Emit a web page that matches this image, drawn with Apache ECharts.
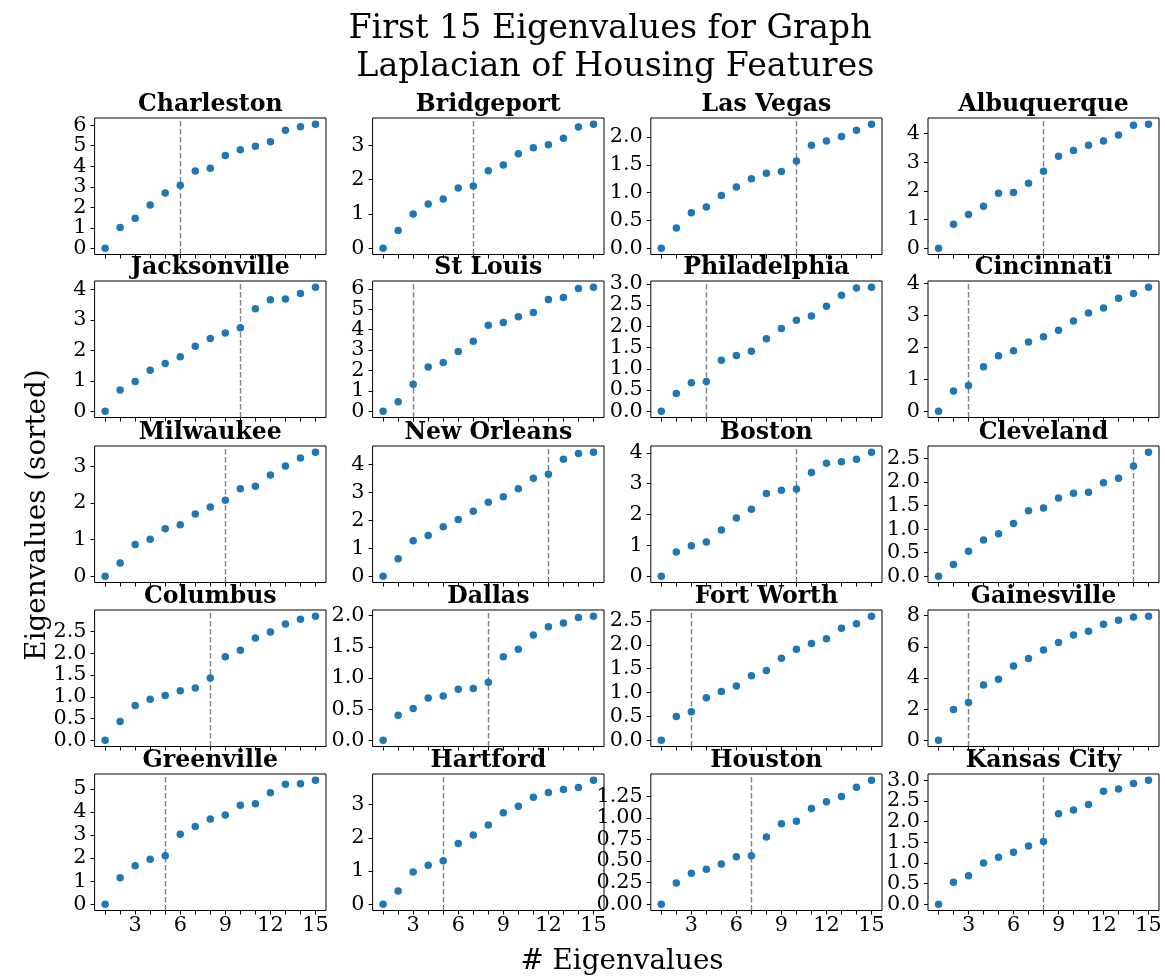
<!DOCTYPE html>
<html>
<head>
<meta charset="utf-8">
<script src="https://cdn.jsdelivr.net/npm/echarts@6/dist/echarts.min.js"></script>
<style>
  html, body { margin: 0; padding: 0; background: #fff; }
  #chart { width: 1165px; height: 978px; }
</style>
</head>
<body>
<div id="chart"></div>
<script>
// ---------------- DATA ----------------
const cities = ['Charleston', 'Bridgeport', 'Las Vegas', 'Albuquerque',
  'Jacksonville', 'St Louis', 'Philadelphia', 'Cincinnati',
  'Milwaukee', 'New Orleans', 'Boston', 'Cleveland',
  'Columbus', 'Dallas', 'Fort Worth', 'Gainesville',
  'Greenville', 'Hartford', 'Houston', 'Kansas City'];

const eigenIndex = [1, 2, 3, 4, 5, 6, 7, 8, 9, 10, 11, 12, 13, 14, 15];

const charleston   = [0, 1.01, 1.46, 2.11, 2.70, 3.07, 3.77, 3.90, 4.52, 4.80, 4.98, 5.20, 5.76, 5.92, 6.05];
const bridgeport   = [0, 0.52, 1.00, 1.29, 1.44, 1.76, 1.82, 2.26, 2.43, 2.76, 2.93, 3.02, 3.21, 3.54, 3.62];
const lasVegas     = [0, 0.365, 0.64, 0.74, 0.95, 1.10, 1.25, 1.35, 1.38, 1.57, 1.85, 1.93, 2.01, 2.12, 2.23];
const albuquerque  = [0, 0.84, 1.18, 1.47, 1.92, 1.95, 2.27, 2.69, 3.21, 3.41, 3.60, 3.74, 3.95, 4.29, 4.33];
const jacksonville = [0, 0.70, 0.98, 1.35, 1.57, 1.79, 2.13, 2.39, 2.57, 2.74, 3.36, 3.66, 3.68, 3.86, 4.07];
const stLouis      = [0, 0.47, 1.32, 2.17, 2.39, 2.93, 3.43, 4.22, 4.35, 4.63, 4.84, 5.48, 5.57, 6.02, 6.08];
const philadelphia = [0, 0.42, 0.67, 0.70, 1.20, 1.31, 1.41, 1.71, 1.95, 2.14, 2.24, 2.47, 2.73, 2.90, 2.92];
const cincinnati   = [0, 0.64, 0.81, 1.40, 1.74, 1.90, 2.17, 2.34, 2.54, 2.83, 3.08, 3.24, 3.54, 3.69, 3.89];
const milwaukee    = [0, 0.36, 0.87, 1.01, 1.30, 1.41, 1.70, 1.89, 2.08, 2.39, 2.46, 2.77, 3.01, 3.23, 3.39];
const newOrleans   = [0, 0.63, 1.27, 1.46, 1.77, 2.03, 2.33, 2.65, 2.85, 3.13, 3.51, 3.65, 4.19, 4.39, 4.44];
const boston       = [0, 0.79, 0.99, 1.11, 1.50, 1.89, 2.17, 2.68, 2.79, 2.83, 3.36, 3.66, 3.71, 3.79, 4.02];
const cleveland    = [0, 0.25, 0.53, 0.77, 0.90, 1.12, 1.39, 1.45, 1.66, 1.76, 1.78, 1.98, 2.08, 2.34, 2.63];
const columbus     = [0, 0.43, 0.80, 0.94, 1.03, 1.14, 1.20, 1.43, 1.92, 2.07, 2.35, 2.49, 2.67, 2.78, 2.85];
const dallas       = [0, 0.40, 0.51, 0.68, 0.71, 0.82, 0.83, 0.93, 1.34, 1.46, 1.69, 1.82, 1.88, 1.97, 1.99];
const fortWorth    = [0, 0.50, 0.60, 0.89, 1.02, 1.14, 1.35, 1.46, 1.72, 1.91, 2.03, 2.13, 2.35, 2.44, 2.60];
const gainesville  = [0, 1.97, 2.42, 3.55, 3.91, 4.77, 5.24, 5.80, 6.27, 6.76, 6.99, 7.44, 7.70, 7.91, 7.96];
const greenville   = [0, 1.15, 1.67, 1.95, 2.10, 3.03, 3.37, 3.69, 3.86, 4.29, 4.35, 4.83, 5.19, 5.22, 5.37];
const hartford     = [0, 0.40, 0.97, 1.17, 1.31, 1.83, 2.08, 2.38, 2.75, 2.95, 3.22, 3.36, 3.45, 3.51, 3.73];
const houston      = [0, 0.246, 0.358, 0.404, 0.465, 0.55, 0.56, 0.777, 0.93, 0.96, 1.108, 1.185, 1.246, 1.354, 1.435];
const kansasCity   = [0, 0.53, 0.69, 1.00, 1.14, 1.26, 1.41, 1.52, 2.19, 2.28, 2.41, 2.73, 2.79, 2.92, 3.00];

const seriesValues = [charleston, bridgeport, lasVegas, albuquerque,
  jacksonville, stLouis, philadelphia, cincinnati,
  milwaukee, newOrleans, boston, cleveland,
  columbus, dallas, fortWorth, gainesville,
  greenville, hartford, houston, kansasCity];

// index of the chosen cut (dashed line) per city
const cutoffs = [6, 7, 10, 8, 10, 3, 4, 3, 9, 12, 10, 14, 8, 8, 3, 3, 5, 5, 7, 8];

const yTickLabels = [
  ['0','1','2','3','4','5','6'],
  ['0','1','2','3'],
  ['0.0','0.5','1.0','1.5','2.0'],
  ['0','1','2','3','4'],
  ['0','1','2','3','4'],
  ['0','1','2','3','4','5','6'],
  ['0.0','0.5','1.0','1.5','2.0','2.5','3.0'],
  ['0','1','2','3','4'],
  ['0','1','2','3'],
  ['0','1','2','3','4'],
  ['0','1','2','3','4'],
  ['0.0','0.5','1.0','1.5','2.0','2.5'],
  ['0.0','0.5','1.0','1.5','2.0','2.5'],
  ['0.0','0.5','1.0','1.5','2.0'],
  ['0.0','0.5','1.0','1.5','2.0','2.5'],
  ['0','2','4','6','8'],
  ['0','1','2','3','4','5'],
  ['0','1','2','3'],
  ['0.00','0.25','0.50','0.75','1.00','1.25'],
  ['0.0','0.5','1.0','1.5','2.0','2.5','3.0']
];

const xTickLabels = ['3', '6', '9', '12', '15'];

const mainTitle = 'First 15 Eigenvalues for Graph\n Laplacian of Housing Features';
const xAxisTitle = '# Eigenvalues';
const yAxisTitle = 'Eigenvalues (sorted)';

// ---------------- LAYOUT ----------------
const colBounds = [[94.6, 326], [372.6, 604], [650.8, 882], [928, 1159]];
const rowTops = [118, 281, 446, 610, 774];
const rowHeight = 136.5;

const SERIF = '"DejaVu Serif", serif';
const BLUE = '#1f77b4';
const TICK_FONT = 20.8;

// list even-indexed ticks first, then odd ones, so the library's
// min/max-label overlap check never compares two neighbouring labels
function interleave(arr) {
  return arr.filter((_, k) => k % 2 === 0).concat(arr.filter((_, k) => k % 2 === 1));
}

const grids = [], xAxes = [], yAxes = [], series = [], graphics = [];

cities.forEach((city, i) => {
  const r = Math.floor(i / 4), c = i % 4;
  const left = colBounds[c][0], right = colBounds[c][1];
  const top = rowTops[r];
  const vals = seriesValues[i];
  const vmin = Math.min(...vals), vmax = Math.max(...vals);
  const span = vmax - vmin;
  const ticks = yTickLabels[i].map(Number);
  const labels = yTickLabels[i];
  const isBottom = r === 4;

  grids.push({
    left: left, top: top, width: right - left, height: rowHeight,
    show: true, borderColor: '#000', borderWidth: 1, backgroundColor: '#fff'
  });

  const xMin = eigenIndex[0] - 0.05 * (eigenIndex[14] - eigenIndex[0]);
  const xMax = eigenIndex[14] + 0.05 * (eigenIndex[14] - eigenIndex[0]);
  xAxes.push({
    type: 'value', gridIndex: i, min: xMin, max: xMax,
    axisLine: { show: false, onZero: false },
    splitLine: { show: false },
    axisTick: { show: true, inside: false, length: 4, customValues: eigenIndex,
      lineStyle: { color: '#000', width: 1 } },
    axisLabel: { show: isBottom, customValues: xTickLabels.map(Number), margin: 5,
      hideOverlap: false, showMinLabel: true, showMaxLabel: true,
      fontFamily: SERIF, fontSize: TICK_FONT, color: '#000',
      formatter: v => String(Math.round(v)) }
  });

  yAxes.push({
    type: 'value', gridIndex: i, min: vmin - 0.05 * span, max: vmax + 0.05 * span,
    axisLine: { show: false, onZero: false },
    splitLine: { show: false },
    axisTick: { show: true, inside: false, length: 4, customValues: ticks,
      lineStyle: { color: '#000', width: 1 } },
    axisLabel: { show: true, customValues: interleave(ticks), margin: 8,
      hideOverlap: false, showMinLabel: true, showMaxLabel: true,
      fontFamily: SERIF, fontSize: TICK_FONT, color: '#000',
      formatter: v => {
        for (let k = 0; k < ticks.length; k++) {
          if (Math.abs(ticks[k] - v) < 1e-9) return labels[k];
        }
        return '';
      } }
  });

  series.push({
    type: 'scatter', xAxisIndex: i, yAxisIndex: i,
    data: vals.map((v, k) => [eigenIndex[k], v]),
    symbolSize: 7.5,
    itemStyle: { color: BLUE, opacity: 1 },
    z: 3,
    markLine: {
      silent: true, symbol: 'none', animation: false, z: 2,
      label: { show: false },
      lineStyle: { color: '#808080', type: [5.5, 2.5], width: 1.4 },
      data: [{ xAxis: cutoffs[i] }]
    }
  });

  graphics.push({
    type: 'text', x: (left + right) / 2, y: top - 13.5,
    style: { text: city, fill: '#000', align: 'center', verticalAlign: 'middle',
      font: 'bold 23.6px ' + SERIF }
  });
});

graphics.push({
  type: 'text', x: 610, y: 10,
  style: { text: mainTitle, fill: '#000', align: 'center', verticalAlign: 'top',
    font: '33.3px ' + SERIF, lineHeight: 38 }
});
graphics.push({
  type: 'text', x: 622, y: 962,
  style: { text: xAxisTitle, fill: '#000', align: 'center', verticalAlign: 'middle',
    font: '27.8px ' + SERIF }
});
graphics.push({
  type: 'text', x: 38, y: 515, rotation: Math.PI / 2,
  style: { text: yAxisTitle, fill: '#000', align: 'center', verticalAlign: 'middle',
    font: '27.8px ' + SERIF }
});

const chart = echarts.init(document.getElementById('chart'), null, { renderer: 'canvas' });
chart.setOption({
  backgroundColor: '#fff',
  animation: false,
  grid: grids,
  xAxis: xAxes,
  yAxis: yAxes,
  series: series,
  graphic: graphics
});
</script>
</body>
</html>
